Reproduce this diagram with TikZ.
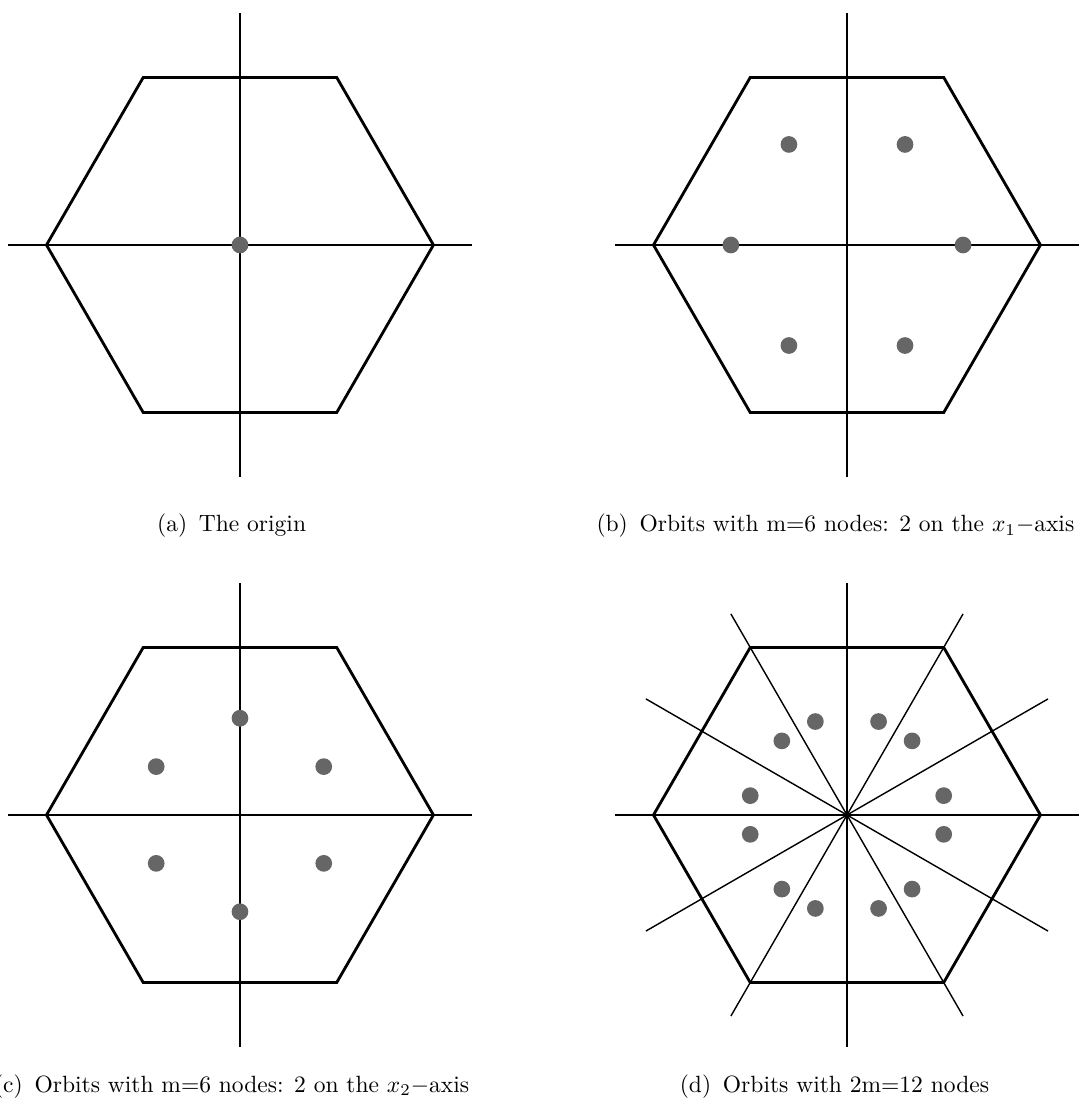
\documentclass[tikz,border=0pt]{standalone}
\usetikzlibrary{positioning}

\begin{document}
\begin{tikzpicture}[
  x=2.892cm, y=2.892cm,
  hexa/.style={line width=1.2pt, line join=miter},
  axis/.style={line width=0.6pt},
  orbit/.style={circle, fill=black!60, inner sep=0pt, minimum size=0.25cm},
  capt/.style={anchor=base, inner sep=0pt},
]
\useasboundingbox (-3.587cm,-12.870cm) rectangle (12.735cm,3.662cm);

% (a) the origin
\begin{scope}
  \draw[axis] (-1.2,0) -- (1.2,0);
  \draw[axis] (0,-1.2) -- (0,1.2);
  \draw[hexa] (0:1) -- (60:1) -- (120:1) -- (180:1) -- (240:1) -- (300:1) -- cycle;
  \node[orbit] (a0) at (0,0) {};
\end{scope}

% (b) six nodes, two on the x1-axis
\begin{scope}[shift={(9.073cm,0)}]
  \draw[axis] (-1.2,0) -- (1.2,0);
  \draw[axis] (0,-1.2) -- (0,1.2);
  \draw[hexa] (0:1) -- (60:1) -- (120:1) -- (180:1) -- (240:1) -- (300:1) -- cycle;
  \foreach \k in {0,...,5}
    \node[orbit] (b\k) at (60*\k:0.6) {};
\end{scope}

% (c) six nodes, two on the x2-axis
\begin{scope}[shift={(0,-8.520cm)}]
  \draw[axis] (-1.2,0) -- (1.2,0);
  \draw[axis] (0,-1.2) -- (0,1.2);
  \draw[hexa] (0:1) -- (60:1) -- (120:1) -- (180:1) -- (240:1) -- (300:1) -- cycle;
  \foreach \k in {0,...,5}
    \node[orbit] (c\k) at (60*\k+30:0.5) {};
\end{scope}

% (d) twelve nodes
\begin{scope}[shift={(9.073cm,-8.520cm)}]
  \foreach \a in {0,30,...,150}
    \draw[axis] (\a:1.2) -- (\a+180:1.2);
  \draw[hexa] (0:1) -- (60:1) -- (120:1) -- (180:1) -- (240:1) -- (300:1) -- cycle;
  \foreach \k in {0,...,5} {
    \node[orbit] (d\k p) at (60*\k+11.31:0.5099) {};
    \node[orbit] (d\k m) at (60*\k-11.31:0.5099) {};
  }
\end{scope}

% captions
\node[capt] (capa) at (-0.125cm,-4.290cm) {(a)\enspace The origin};
\node[capt] (capb) at (8.900cm,-4.290cm) {(b)\enspace Orbits with m=6 nodes: 2 on the $x_1-$axis};
\node[capt] (capc) at (-0.125cm,-12.661cm) {(c)\enspace Orbits with m=6 nodes: 2 on the $x_2-$axis};
\node[capt] (capd) at (8.886cm,-12.661cm) {(d)\enspace Orbits with 2m=12 nodes};
\end{tikzpicture}
\end{document}
